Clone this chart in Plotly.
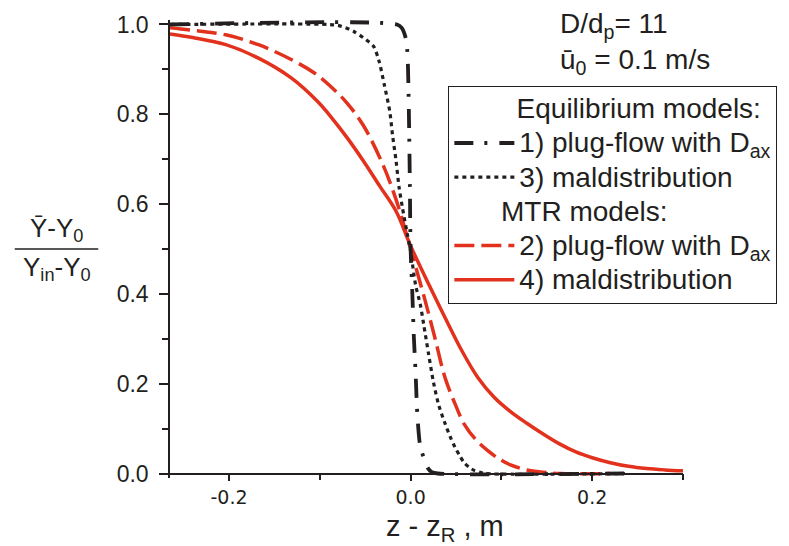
import plotly.graph_objects as go

# ---- data ----
x_eq_plug = [-0.265, -0.015, -0.010, -0.0054, -0.0036, -0.0025, -0.0015, -0.0008, 0.0, 0.0018,
             0.0036, 0.0054, 0.0076, 0.0108, 0.0144, 0.019, 0.0234, 0.03, 0.236]
y_eq_plug = [1.0, 1.0, 0.993, 0.97, 0.94, 0.87, 0.75, 0.64, 0.50, 0.407,
             0.303, 0.229, 0.125, 0.058, 0.036, 0.012, 0.003, 0.0, 0.0]

x_eq_mal = [-0.265, -0.09, -0.078, -0.063, -0.049, -0.041, -0.035, -0.029, -0.023, -0.020,
            -0.016, -0.0126, -0.009, -0.0036, 0.0, 0.0054, 0.0108, 0.0144, 0.0198, 0.0252,
            0.031, 0.038, 0.044, 0.049, 0.054, 0.059, 0.065, 0.070, 0.076, 0.082, 0.236]
y_eq_mal = [1.0, 1.0, 0.997, 0.985, 0.966, 0.952, 0.92, 0.866, 0.807, 0.755,
            0.696, 0.636, 0.592, 0.533, 0.495, 0.421, 0.375, 0.332, 0.266, 0.203,
            0.152, 0.111, 0.08, 0.058, 0.04, 0.024, 0.013, 0.007, 0.003, 0.0, 0.0]

x_mtr_plug = [-0.265, -0.235, -0.2036, -0.1676, -0.1315, -0.106, -0.088, -0.07, -0.052, -0.031,
              -0.016, 0.0, 0.016, 0.027, 0.038, 0.05, 0.059, 0.072,
              0.085, 0.097, 0.11, 0.128, 0.146, 0.165, 0.22]
y_mtr_plug = [0.993, 0.986, 0.977, 0.955, 0.922, 0.892, 0.862, 0.825, 0.775, 0.69,
              0.61, 0.5, 0.385, 0.30, 0.213, 0.15, 0.11, 0.075,
              0.051, 0.033, 0.019, 0.008, 0.003, 0.0, 0.0]

x_mtr_mal = [-0.265, -0.24, -0.2036, -0.1676, -0.1315, -0.1027, -0.088, -0.07, -0.052, -0.034,
             -0.016, 0.0, 0.0198, 0.038, 0.056, 0.074, 0.092, 0.11, 0.128, 0.146,
             0.164, 0.182, 0.2, 0.22, 0.24, 0.26, 0.28, 0.3]
y_mtr_mal = [0.979, 0.971, 0.955, 0.925, 0.881, 0.829, 0.795, 0.748, 0.696, 0.64,
             0.584, 0.507, 0.422, 0.347, 0.275, 0.214, 0.17, 0.138, 0.112, 0.088,
             0.066, 0.048, 0.035, 0.024, 0.016, 0.011, 0.008, 0.006]

y_ticks = [0.0, 0.2, 0.4, 0.6, 0.8, 1.0]
x_ticks = [-0.2, 0.0, 0.2]

RED = "#E2311D"
BLK = "#231F20"
NB = "\u00a0"
LEG_PX = 28


def big(t):
    return f'<span style="font-size:{LEG_PX}px">{t}</span>'


fig = go.Figure()

fig.add_trace(go.Scatter(x=x_mtr_mal, y=y_mtr_mal, mode="lines",
                         line=dict(color=RED, width=3.5, shape="spline", smoothing=1.0),
                         name=big("4) maldistribution"), legendgroup="mtr",
                         legendgrouptitle_text=big(NB * 6 + "MTR models:"), legendrank=4))
fig.add_trace(go.Scatter(x=x_mtr_plug, y=y_mtr_plug, mode="lines",
                         line=dict(color=RED, width=3.5, dash="20px,7px", shape="spline", smoothing=1.0),
                         name=big("2) plug-flow with D<sub>ax</sub>"), legendgroup="mtr",
                         legendgrouptitle_text=big(NB * 6 + "MTR models:"), legendrank=3))
fig.add_trace(go.Scatter(x=x_eq_mal, y=y_eq_mal, mode="lines",
                         line=dict(color=BLK, width=3.2, dash="4px,4px", shape="spline", smoothing=0.8),
                         name=big("3) maldistribution"), legendgroup="eq",
                         legendgrouptitle_text=big(NB * 8 + "Equilibrium models:"), legendrank=2))
fig.add_trace(go.Scatter(x=x_eq_plug, y=y_eq_plug, mode="lines",
                         line=dict(color=BLK, width=3.8, dash="19px,11px,3px,12px", shape="spline", smoothing=0.8),
                         name=big("1) plug-flow with D<sub>ax</sub>"), legendgroup="eq",
                         legendgrouptitle_text=big(NB * 8 + "Equilibrium models:"), legendrank=1))

L, R, T, B = 170, 97, 18, 68
W, H = 789, 546
PW, PH = W - L - R, H - T - B


def px(xp):
    return (xp - L) / PW


def py(yp):
    return (H - B - yp) / PH


fig.update_layout(
    width=W, height=H,
    margin=dict(l=L, r=R, t=T, b=B),
    paper_bgcolor="white", plot_bgcolor="white",
    font=dict(family="Liberation Sans, Arial, sans-serif", color=BLK),
    showlegend=True,
    legend=dict(x=px(788), xanchor="right", y=py(84), yanchor="top",
                bordercolor=BLK, borderwidth=1, bgcolor="white",
                font=dict(size=24, family="Liberation Sans, Arial, sans-serif", color=BLK),
                grouptitlefont=dict(size=24, family="Liberation Sans, Arial, sans-serif", color=BLK),
                itemwidth=60, tracegroupgap=0, traceorder="grouped"),
    xaxis=dict(range=[-0.265, 0.300], showgrid=False, zeroline=False,
               showline=True, linecolor=BLK, linewidth=1.5,
               anchor="free", position=py(473.5),
               tickmode="array", tickvals=x_ticks, ticktext=["-0.2", "0.0", "0.2"],
               ticks="outside", ticklen=7, tickwidth=1.5, tickcolor=BLK,
               tickfont=dict(family="DejaVu Sans", size=19, color=BLK),
               minor=dict(tickmode="array", tickvals=[-0.1, 0.1, 0.3], ticks="outside",
                          ticklen=6, tickwidth=1.5, tickcolor=BLK)),
    yaxis=dict(range=[-0.01, 1.01], showgrid=False, zeroline=False,
               showline=True, linecolor=BLK, linewidth=1.5,
               tickmode="array", tickvals=y_ticks, ticktext=[f"{v:.1f}" for v in y_ticks],
               ticks="outside", ticklen=9, tickwidth=1.5, tickcolor=BLK,
               ticklabelstandoff=6,
               tickfont=dict(family="Liberation Sans Narrow, Liberation Sans, Arial", size=23, color=BLK),
               minor=dict(tickmode="array", tickvals=[0.1, 0.3, 0.5, 0.7, 0.9], ticks="outside",
                          ticklen=6, tickwidth=1.5, tickcolor=BLK)),
)

ann_font = dict(family="Liberation Sans, Arial, sans-serif", size=28, color=BLK)
fig.add_annotation(text="z - z<sub>R</sub> , m", xref="paper", yref="paper",
                   x=px(450), y=py(528), xanchor="center", yanchor="middle",
                   showarrow=False, font=dict(family="Liberation Sans, Arial", size=29, color=BLK))
fig.add_annotation(text="\u0232-Y<sub>0</sub>", xref="paper", yref="paper",
                   x=px(55), y=py(228), xanchor="center", yanchor="middle",
                   showarrow=False, font=dict(family="Liberation Sans, Arial", size=26, color=BLK))
fig.add_annotation(text="Y<sub>in</sub>-Y<sub>0</sub>", xref="paper", yref="paper",
                   x=px(55), y=py(268), xanchor="center", yanchor="middle",
                   showarrow=False, font=dict(family="Liberation Sans, Arial", size=26, color=BLK))
fig.add_shape(type="line", xref="paper", yref="paper",
              x0=px(12), x1=px(97), y0=py(248), y1=py(248),
              line=dict(color=BLK, width=1.5))
fig.add_annotation(text="D/d<sub>p</sub>= 11", xref="paper", yref="paper",
                   x=px(565), y=py(24), xanchor="left", yanchor="middle",
                   showarrow=False, font=ann_font)
fig.add_annotation(text="\u016b<sub>0</sub> = 0.1 m/s", xref="paper", yref="paper",
                   x=px(565), y=py(60), xanchor="left", yanchor="middle",
                   showarrow=False, font=ann_font)

fig.write_html("out.html")
